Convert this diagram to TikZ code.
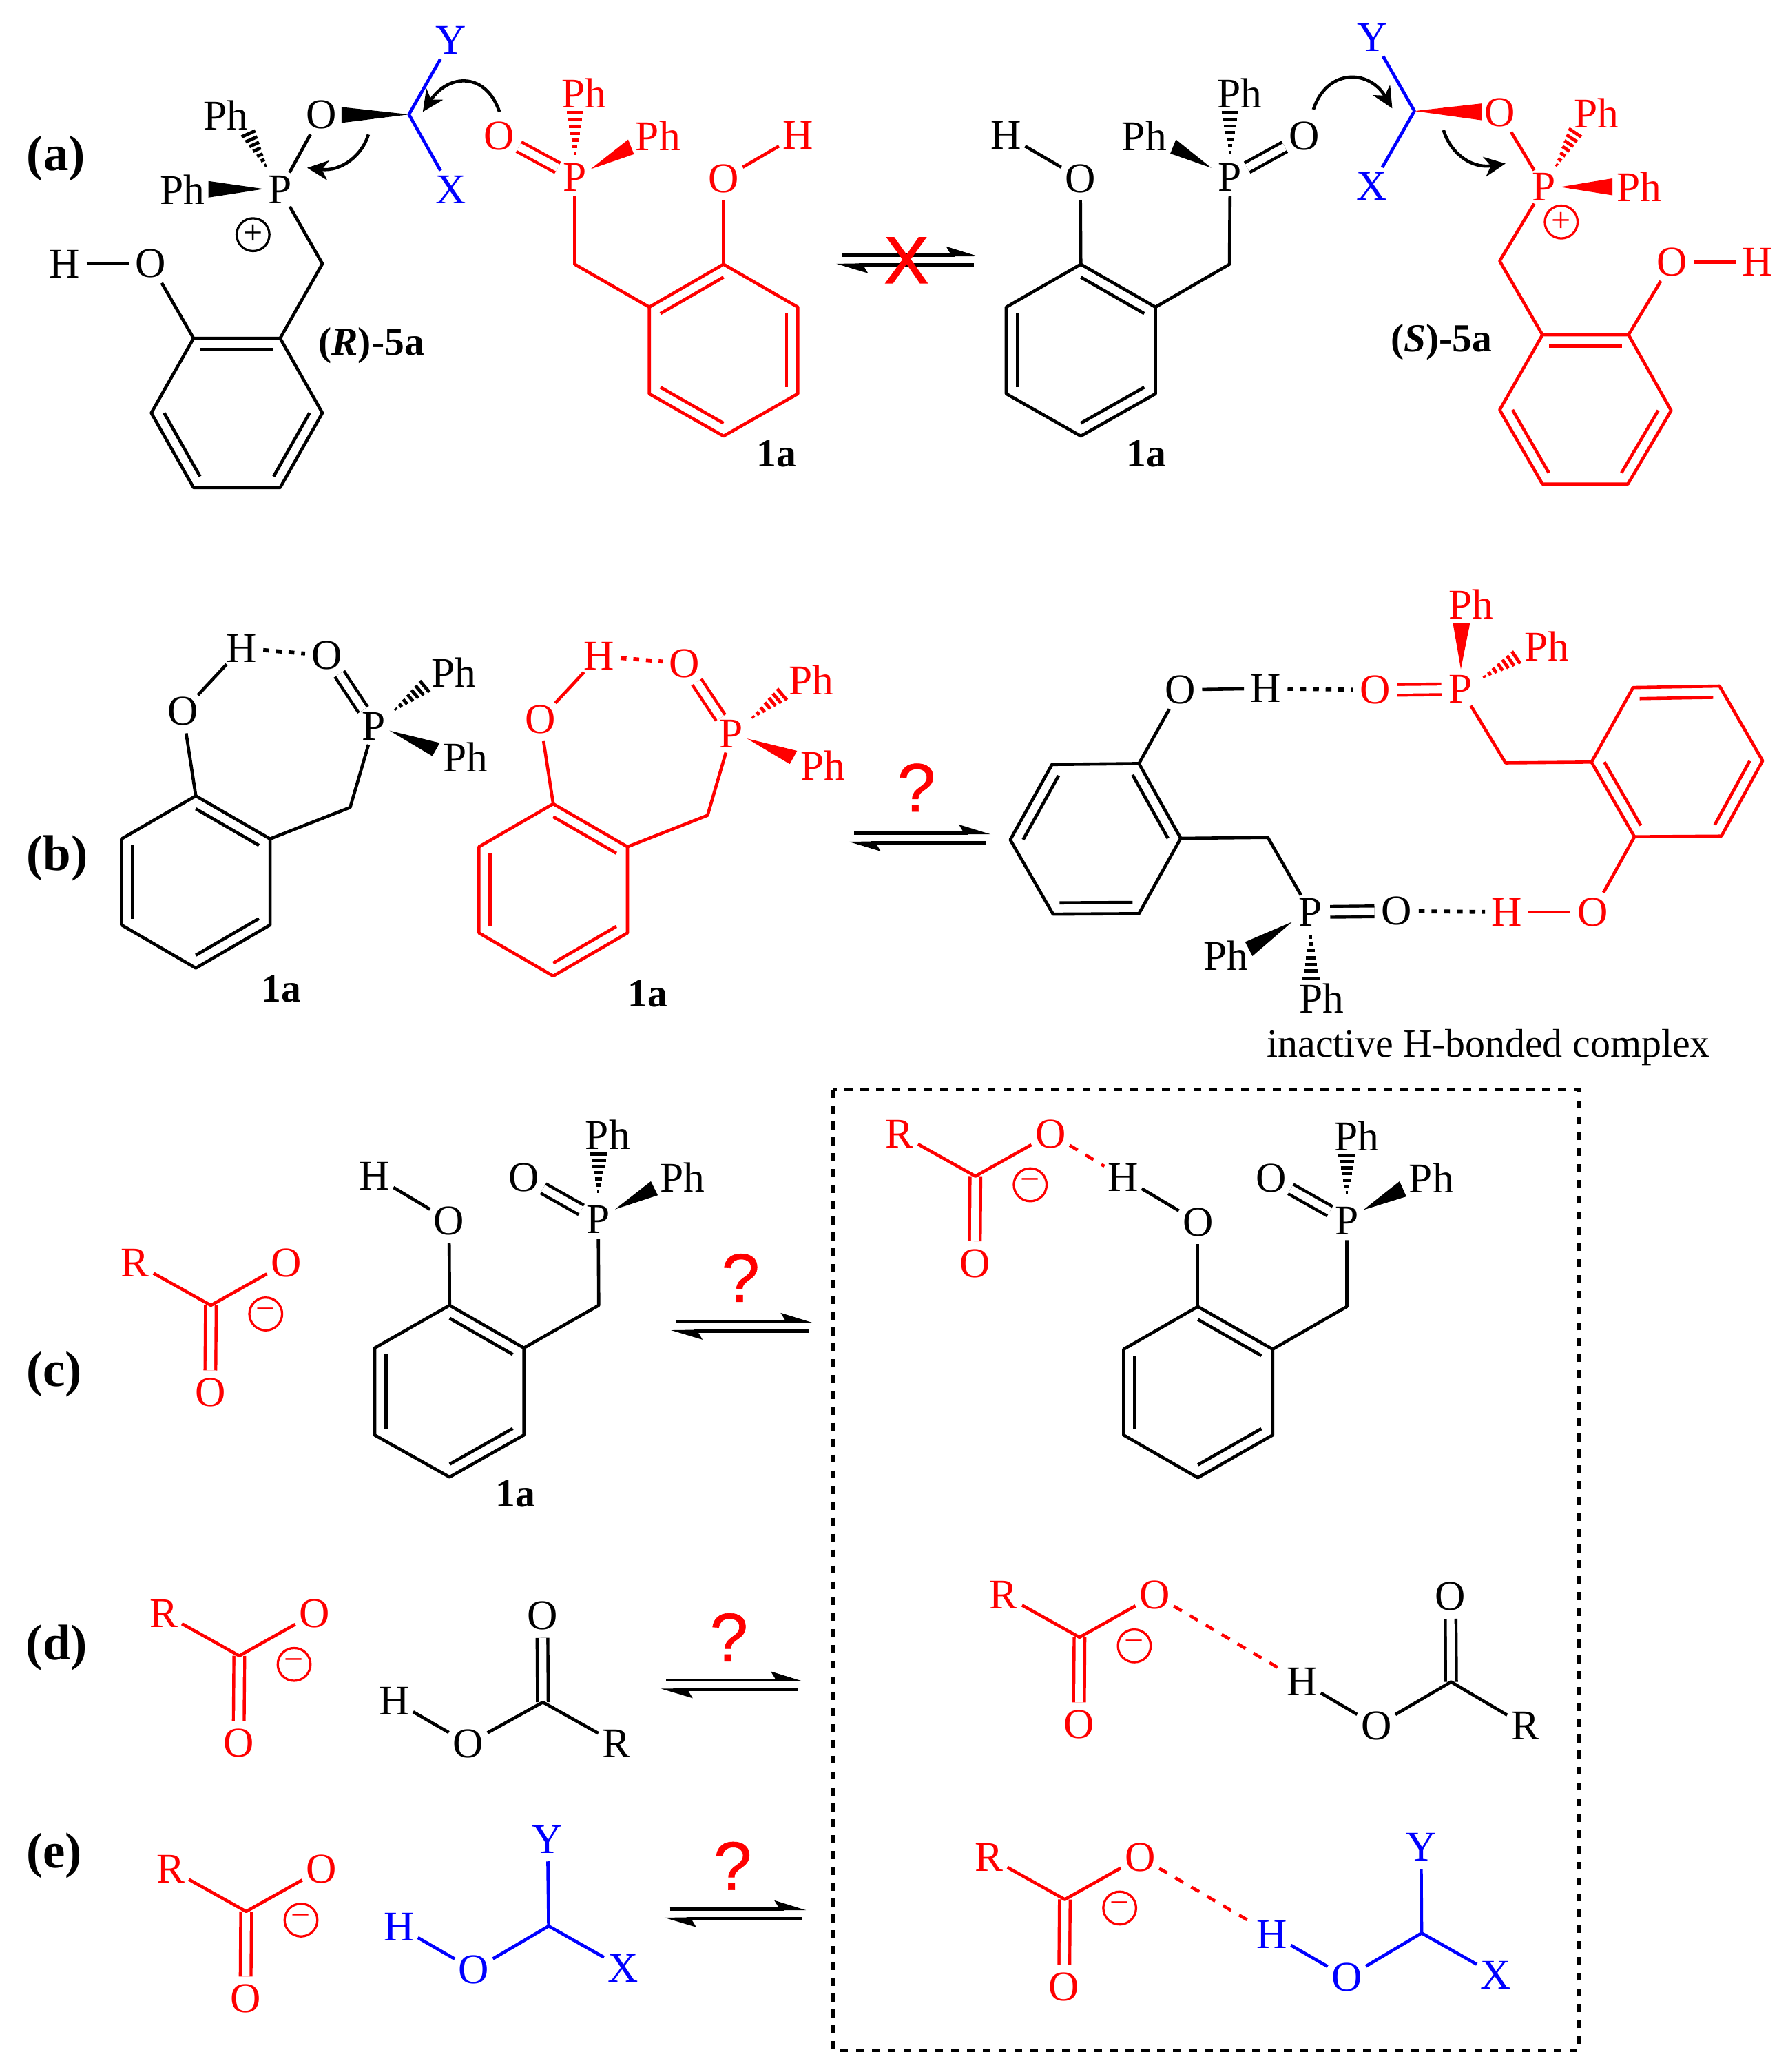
\documentclass[tikz,border=0pt]{standalone}
\usepackage{fontspec}
\setmainfont{Liberation Serif}
\newfontfamily\qfont[FakeBold=.6]{Liberation Sans}
\newfontfamily\xfont[FakeBold=1.6]{Liberation Sans}
\usetikzlibrary{calc,arrows.meta}
\tikzset{
  atom/.style={circle,inner sep=0.2pt,font=\fontsize{16}{18}\selectfont},
  ph/.style={inner sep=0pt,font=\fontsize{16}{18}\selectfont},
  bond/.style={line width=1.2pt,line join=round},
  dbond/.style={double=white,double distance=2.9pt,line width=1.15pt},
  hbs/.style={line width=1.5pt,dash pattern=on 2.2pt off 2.6pt},
  hbl/.style={line width=1.2pt,dash pattern=on 3.5pt off 3.5pt},
  lab/.style={inner sep=0pt,font=\fontsize{15}{17}\bfseries\selectfont},
  panel/.style={inner sep=0pt,yshift=-.7pt,font=\fontsize{19}{21}\bfseries\selectfont},
  qm/.style={inner sep=0pt,text=red,font=\fontsize{26}{28}\qfont\selectfont},
  chg/.style={circle,draw,line width=.85pt,minimum size=12.4pt,inner sep=0pt,font=\fontsize{13}{13}\selectfont},
  curly/.style={line width=1.2pt,-{Stealth[length=8pt,width=7.5pt,inset=2.4pt]}},
  lz/.style={x=.19945pt,y=-.24065pt,yshift=-406.55pt},
  rz/.style={x=.232pt,y=-.24065pt,xshift=312.7pt,yshift=-406.55pt}
}
\newcommand\ring[7]{%
  \coordinate (#1a) at #2; \coordinate (#1b) at #3; \coordinate (#1c) at #4;
  \coordinate (#1d) at #5; \coordinate (#1e) at #6; \coordinate (#1f) at #7;
  \coordinate (#1o) at ($(#1a)!.5!(#1d)$);
  \draw[bond] (#1a)--(#1b)--(#1c)--(#1d)--(#1e)--(#1f)--cycle;}
\newcommand\ringdbl[3]{\draw[bond] ($(#1#2)!.15!(#1o)$) -- ($(#1#3)!.15!(#1o)$);}
\newcommand\wedgebond[3]{\fill #1 -- #2 -- #3 -- cycle;}
\newcommand\hashbond[3]{%
  \coordinate (hA) at #1; \coordinate (hB) at #2; \coordinate (hC) at #3;
  \foreach \t in {.14,.28,.42,.57,.71,.85,1}
    \draw[line width=1.25pt] ($(hA)!\t!(hB)$) -- ($(hA)!\t!(hC)$);}
\newcommand\equil[3]{%
  \begin{scope}[shift={(#2,#3)}]
    \coordinate (#1s1) at (4,0); \coordinate (#1e1) at (90,0);
    \coordinate (#1s2) at (17,7.3); \coordinate (#1e2) at (104,7.3);
    \draw[bond] (#1s1) -- (#1e1);
    \draw[bond] (#1s2) -- (#1e2);
    \fill (107,.9) -- (83,-6.5) -- (87,0) -- (87,1) -- cycle;
    \fill (0,6.6) -- (24,13.8) -- (20,7.3) -- (20,6.3) -- cycle;
  \end{scope}}
\newcommand\carbox[3]{%
  \begin{scope}[shift={(#2,#3)},color=red]
    \coordinate (#1C) at (0,0);
    \node[atom] (#1R) at (-57.3,-32) {R};
    \node[atom] (#1O) at (57,-32) {O};
    \node[atom] (#1D) at (-.5,66) {O};
    \node[chg] (#1M) at (41.5,6.5) {−};
    \draw[dbond] (#1D) -- (#1C);
    \draw[bond] (#1R) -- (#1C) -- (#1O);
  \end{scope}}
\newcommand\chelate[1]{%
  \node[atom] (#1H) at (182.8,490.6) {H};
  \node[atom] (#1O) at (138.3,538.3) {O};
  \node[atom] (#1Q) at (247.6,496) {O};
  \node[atom] (#1P) at (283,549.4) {P};
  \node[ph] (#1Pa) at (343.6,508.7) {Ph};
  \node[ph] (#1Pb) at (352.2,573.2) {Ph};
  \ring{#1r}{(148.2,602.3)}{(204.4,634.8)}{(204.4,700)}{(148.2,732.6)}{(92,700)}{(92,634.8)}
  \ringdbl{#1r}{a}{b}\ringdbl{#1r}{c}{d}\ringdbl{#1r}{e}{f}
  \coordinate (#1CH) at (265,611);
  \draw[bond] (#1O) -- (#1H);
  \draw[bond] (#1O) -- (#1ra);
  \draw[bond] (#1rb) -- (#1CH) -- (#1P);
  \draw[dbond] (#1Q) -- (#1P);
  \draw[hbs] (#1H) -- (#1Q);
  \wedgebond{(294.8,552.9)}{(332.8,562.2)}{(327.2,572.2)}
  \hashbond{(296,539.4)}{(317.7,515.2)}{(325,523.8)}}
\begin{document}
\begin{tikzpicture}[x=.5pt,y=-.5pt]
\useasboundingbox (0,0) rectangle (1353,1568);
\fill[white] (0,0) rectangle (1353,1568);

% ---------- panel a
\node[panel] (pa) at (42.4,118.7) {(a)};
% left cation
\node[atom] (alH) at (49,199.6) {H};
\node[atom] (alO) at (114,199.6) {O};
\node[atom] (alP) at (212,143.5) {P};
\node[atom] (alQ) at (243,87) {O};
\node[ph] (alPa) at (171,87) {Ph};
\node[ph] (alPb) at (138,143.5) {Ph};
\node[chg] (alplus) at (191.5,177.6) {+};
\ring{alr}{(146.5,256)}{(212,256)}{(244,312.5)}{(212,369)}{(146.5,369)}{(114.5,312.5)}
\ringdbl{alr}{a}{b}\ringdbl{alr}{c}{d}\ringdbl{alr}{e}{f}
\coordinate (alCH) at (244,199.6);
\draw[bond] (alH) -- (alO);
\draw[bond] (alO) -- (alra);
\draw[bond] (alrb) -- (alCH) -- (alP);
\draw[bond] (alP) -- (alQ);
\wedgebond{(199.7,143)}{(157.7,137)}{(157.7,149.5)}
\hashbond{(203,129)}{(182.8,103.6)}{(193.2,99)}
\wedgebond{(309.5,86.6)}{(258.5,81)}{(258.5,93)}
% left blue
\coordinate (alC) at (309.5,86.6);
\node[atom,blue] (alY) at (341.5,30.3) {Y};
\node[atom,blue] (alX) at (341.5,143.5) {X};
\draw[bond,blue] (alY) -- (alC) -- (alX);
% curved arrows
\coordinate (ca1s) at (378,84.6); \coordinate (ca1e) at (320,84.6);
\draw[curly] (ca1s) .. controls (368,55) and (340,55) .. (ca1e);
\coordinate (ca2s) at (278.8,101.8); \coordinate (ca2e) at (232.5,127);
\draw[curly] (ca2s) .. controls (274,118) and (258,130) .. (ca2e);
% red 1a
\begin{scope}[color=red]
\node[atom] (arP) at (435,134) {P};
\node[atom] (arQ) at (378,103) {O};
\node[ph] (arPa) at (442,70.7) {Ph};
\node[ph] (arPb) at (498,103) {Ph};
\node[atom] (arO) at (547.6,135) {O};
\node[atom] (arH) at (603.8,102.3) {H};
\ring{arr}{(547.6,200)}{(603.8,232.4)}{(603.8,298)}{(547.6,330)}{(491.4,298)}{(491.4,232.4)}
\ringdbl{arr}{a}{f}\ringdbl{arr}{b}{c}\ringdbl{arr}{d}{e}
\coordinate (arCH) at (435,200);
\draw[bond] (arP) -- (arCH) -- (arrf);
\draw[bond] (arO) -- (arra);
\draw[bond] (arO) -- (arH);
\draw[dbond] (arQ) -- (arP);
\wedgebond{(447,128)}{(475.4,105.6)}{(479.8,116.7)}
\hashbond{(435,121)}{(429,85.4)}{(441.7,85.4)}
\end{scope}
\node[lab] (ala) at (587.8,343.5) {1a};
\node[lab] (alb) at (281,261.5) {(\textit{R})-5a};
% equilibrium with cross
\equil{ea}{633}{193}
\node[inner sep=0pt,text=red,font=\fontsize{25}{27}\xfont\selectfont] (xa) at (686,197) {X};
% right 1a
\node[atom] (brP) at (931,134) {P};
\node[atom] (brQ) at (987,103) {O};
\node[ph] (brPa) at (938,70.7) {Ph};
\node[ph] (brPb) at (866,103) {Ph};
\node[atom] (brO) at (817.6,135) {O};
\node[atom] (brH) at (761.6,102.3) {H};
\ring{brr}{(818,200)}{(874.5,232.4)}{(874.5,298)}{(818,330)}{(761.6,298)}{(761.6,232.4)}
\ringdbl{brr}{a}{b}\ringdbl{brr}{c}{d}\ringdbl{brr}{e}{f}
\coordinate (brCH) at (930.5,200);
\draw[bond] (brP) -- (brCH) -- (brrb);
\draw[bond] (brO) -- (brra);
\draw[bond] (brO) -- (brH);
\draw[dbond] (brQ) -- (brP);
\wedgebond{(916.7,127)}{(890,105.6)}{(885.7,116.2)}
\hashbond{(931,120)}{(924.5,85.4)}{(937.4,85.4)}
\node[lab] (bla) at (867.6,343.5) {1a};
% right blue
\coordinate (crC) at (1070.5,84);
\node[atom,blue] (crY) at (1038.6,28.3) {Y};
\node[atom,blue] (crX) at (1038,141) {X};
\draw[bond,blue] (crY) -- (crC) -- (crX);
% right red cation
\begin{scope}[color=red]
\node[atom] (crP) at (1168.7,141.5) {P};
\node[atom] (crO) at (1135,85.4) {O};
\node[ph] (crPa) at (1208.3,85.4) {Ph};
\node[ph] (crPb) at (1240.6,141.5) {Ph};
\node[atom] (crOH) at (1265.6,198.3) {O};
\node[atom] (crH) at (1330,198.3) {H};
\node[chg] (crplus) at (1181.6,168) {+};
\ring{crr}{(1167.4,253.4)}{(1232.5,253.4)}{(1264.8,310.7)}{(1232,366.3)}{(1167.4,366.3)}{(1135,310.2)}
\ringdbl{crr}{a}{b}\ringdbl{crr}{c}{d}\ringdbl{crr}{e}{f}
\coordinate (crCH) at (1135,197.5);
\draw[bond] (crP) -- (crCH) -- (crra);
\draw[bond] (crP) -- (crO);
\draw[bond] (crOH) -- (crH);
\draw[bond] (crOH) -- (crrb);
\wedgebond{(1070.5,84)}{(1121.3,78.3)}{(1121.3,91)}
\wedgebond{(1180.8,141.5)}{(1220.4,135)}{(1220.4,147.8)}
\hashbond{(1176,128.8)}{(1187.3,97.3)}{(1196.8,103.6)}
\end{scope}
\node[lab] (crl) at (1091,259) {(\textit{S})-5a};
\coordinate (ca3s) at (994,82.9); \coordinate (ca3e) at (1053.7,82);
\draw[curly] (ca3s) .. controls (1004,52) and (1036,52) .. (ca3e);
\coordinate (ca4s) at (1092.5,98.5); \coordinate (ca4e) at (1139.4,123.8);
\draw[curly] (ca4s) .. controls (1097,114) and (1112,128) .. (ca4e);

% ---------- panel b
\node[panel] (pb) at (43.2,648.3) {(b)};
\chelate{c}
\node[lab] (cl) at (213,748.4) {1a};
\begin{scope}[shift={(270.5,6)},color=red]
\chelate{d}
\end{scope}
\node[lab] (dl) at (490,751.9) {1a};
\equil{eb}{642.6}{630.4}
\node[qm] (qb) at (693.6,596) {?};
% complex
\node[atom] (eO) at (893.1,522) {O};
\node[atom] (eH) at (958,521) {H};
\node[atom] (eP) at (992,690.2) {P};
\node[atom] (eQ) at (1057,689.5) {O};
\node[ph] (ePa) at (928,723.2) {Ph};
\node[ph] (ePb) at (1000.3,755.4) {Ph};
\ring{er}{(862,577.8)}{(893.6,634.4)}{(862,691.4)}{(797,691.8)}{(764.6,635.5)}{(796.2,578.5)}
\ringdbl{er}{a}{b}\ringdbl{er}{c}{d}\ringdbl{er}{e}{f}
\coordinate (eCH) at (959.5,633.7);
\draw[bond] (erb) -- (eCH) -- (eP);
\draw[bond] (eO) -- (era);
\draw[bond] (eO) -- (eH);
\draw[dbond] (eP) -- (eQ);
\wedgebond{(978,697.6)}{(942.3,712.8)}{(947.9,723.5)}
\hashbond{(992,704.2)}{(985.9,740.2)}{(998.9,740.2)}
\begin{scope}[color=red]
\node[atom] (fP) at (1105.6,521.5) {P};
\node[atom] (fQ) at (1040.7,522.2) {O};
\node[ph] (fPa) at (1113.5,457.5) {Ph};
\node[ph] (fPb) at (1170.6,489) {Ph};
\node[atom] (fH) at (1140.4,690.2) {H};
\node[atom] (fO) at (1205.4,690.2) {O};
\ring{fr}{(1237,633.2)}{(1302.8,632.7)}{(1334,575.7)}{(1301.4,519.2)}{(1236,520.3)}{(1204.5,576.7)}
\ringdbl{fr}{a}{f}\ringdbl{fr}{b}{c}\ringdbl{fr}{d}{e}
\coordinate (fCH) at (1139.5,577.3);
\draw[bond] (fP) -- (fCH) -- (frf);
\draw[bond] (fO) -- (fra);
\draw[bond] (fO) -- (fH);
\draw[dbond] (fQ) -- (fP);
\wedgebond{(1105.6,506.4)}{(1099.6,471.5)}{(1112.6,471.5)}
\hashbond{(1119.6,514.5)}{(1144.2,492.9)}{(1150.6,502.2)}
\end{scope}
\draw[hbs] (eH) -- (fQ);
\draw[hbs] (eQ) -- (fH);
\node[inner sep=0pt,font=\fontsize{15.1}{17}\selectfont] (inact) at (1126.5,792.6) {inactive H-bonded complex};

% ---------- dashed box
\coordinate (bx1) at (630.5,824.7); \coordinate (bx2) at (1195.2,1551.4);
\draw[line width=1.25pt,dash pattern=on 3pt off 3pt] (bx1) rectangle (bx2);

% ---------- panel c
\node[panel] (pc) at (41,1038.4) {(c)};
\carbox{g}{159.6}{987.8}
\begin{scope}[lz]
\node[atom] (hH) at (711,160) {H};
\node[atom] (hO) at (852,230) {O};
\node[atom] (hP) at (1135,228) {P};
\node[atom] (hQ) at (994,162) {O};
\node[ph] (hPa) at (1153,95) {Ph};
\node[ph] (hPb) at (1295,162) {Ph};
\ring{hr}{(853,363)}{(994,430)}{(994,567)}{(853,633)}{(711,567)}{(711,430)}
\ringdbl{hr}{a}{b}\ringdbl{hr}{c}{d}\ringdbl{hr}{e}{f}
\coordinate (hCH) at (1136,363);
\draw[bond] (hP) -- (hCH) -- (hrb);
\draw[bond] (hO) -- (hra);
\draw[bond] (hO) -- (hH);
\draw[dbond] (hQ) -- (hP);
\wedgebond{(1167,212)}{(1235,168)}{(1248,190)}
\hashbond{(1135,193)}{(1120,125)}{(1152,125)}
\node[lab] (hl) at (978,660) {1a};
\end{scope}
\equil{ec}{507.8}{1000}
\node[qm] (qc) at (560.5,967) {?};
\carbox{i}{738.2}{890.1}
\begin{scope}[rz]
\node[atom] (jH) at (484,162) {H};
\node[atom] (jO) at (606,232) {O};
\node[atom] (jP) at (849,230) {P};
\node[atom] (jQ) at (726,163) {O};
\node[ph] (jPa) at (865,97) {Ph};
\node[ph] (jPb) at (987,163) {Ph};
\ring{jr}{(606,365)}{(728,432)}{(728,567)}{(606,634)}{(485,567)}{(485,432)}
\ringdbl{jr}{a}{b}\ringdbl{jr}{c}{d}\ringdbl{jr}{e}{f}
\coordinate (jCH) at (849,365);
\draw[bond] (jP) -- (jCH) -- (jrb);
\draw[bond] (jO) -- (jra);
\draw[bond] (jO) -- (jH);
\draw[dbond] (jQ) -- (jP);
\wedgebond{(876,213)}{(935,168)}{(946,192)}
\hashbond{(849,195)}{(835,127)}{(863,127)}
\end{scope}
\draw[hbl,red] (iO) -- (jH);

% ---------- panel d
\node[panel] (pd) at (43,1245.3) {(d)};
\carbox{k}{181.1}{1253}
\begin{scope}[lz]
\node[atom] (lH) at (748,985) {H};
\node[atom] (lO) at (888,1052) {O};
\coordinate (lC) at (1030,987);
\node[atom] (lR) at (1170,1052) {R};
\node[atom] (lQ) at (1029,851) {O};
\draw[dbond] (lQ) -- (lC);
\draw[bond] (lH) -- (lO);
\draw[bond] (lO) -- (lC) -- (lR);
\end{scope}
\equil{ed}{500.3}{1271.3}
\node[qm] (qd) at (551.7,1239) {?};
\carbox{m}{817}{1239}
\begin{scope}[rz]
\node[atom] (nH) at (776,955) {H};
\node[atom] (nO) at (897,1024) {O};
\coordinate (nC) at (1019,955);
\node[atom] (nR) at (1140,1024) {R};
\node[atom] (nQ) at (1018,821) {O};
\draw[dbond] (nQ) -- (nC);
\draw[bond] (nH) -- (nO);
\draw[bond] (nO) -- (nC) -- (nR);
\end{scope}
\draw[hbl,red] (mO) -- (nH);

% ---------- panel e
\node[panel] (pe) at (41,1402.7) {(e)};
\carbox{o}{186.3}{1446.5}
\begin{scope}[lz,color=blue]
\node[atom] (qH) at (757,1340) {H};
\node[atom] (qO) at (899,1408) {O};
\coordinate (qC) at (1041,1339);
\node[atom] (qX) at (1182,1405) {X};
\node[atom] (qY) at (1039,1203) {Y};
\draw[bond] (qH) -- (qO);
\draw[bond] (qO) -- (qC) -- (qX);
\draw[bond] (qC) -- (qY);
\end{scope}
\equil{ee}{503}{1444.6}
\node[qm] (qe) at (554.5,1412) {?};
\carbox{s}{805.9}{1437.4}
\begin{scope}[rz,color=blue]
\node[atom] (tH) at (727,1352) {H};
\node[atom] (tO) at (849,1420) {O};
\coordinate (tC) at (971,1350);
\node[atom] (tX) at (1092,1416) {X};
\node[atom] (tY) at (970,1215) {Y};
\draw[bond] (tH) -- (tO);
\draw[bond] (tO) -- (tC) -- (tX);
\draw[bond] (tC) -- (tY);
\end{scope}
\draw[hbl,red] (sO) -- (tH);
\end{tikzpicture}
\end{document}
